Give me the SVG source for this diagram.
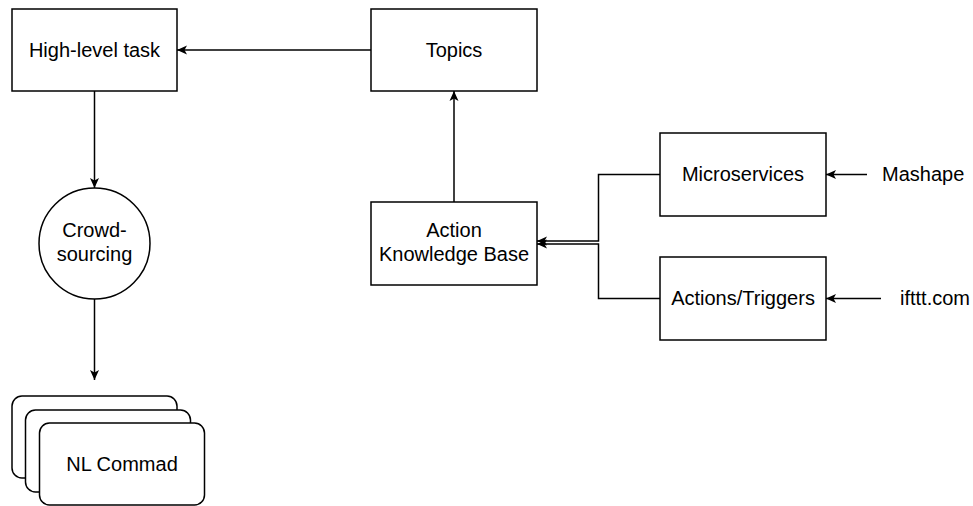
<svg xmlns="http://www.w3.org/2000/svg" width="973" height="506" viewBox="0 0 973 506">
<style>
.box{fill:#fff;stroke:#000;stroke-width:1.5}
.t{font-family:"Liberation Sans",Arial,Helvetica,sans-serif;font-size:20px;fill:#000;text-anchor:middle}
.ts{font-family:"Liberation Sans",Arial,Helvetica,sans-serif;font-size:20px;fill:#000}
.e{fill:none;stroke:#000;stroke-width:1.5}
</style>
<defs>
<marker id="arr" markerUnits="userSpaceOnUse" viewBox="0 0 10 10" refX="10" refY="5" markerWidth="11" markerHeight="10" orient="auto">
<path d="M0,0.5 L10,5 L0,9.5 L2.5,5 Z" fill="#000"/>
</marker>
</defs>
<rect width="973" height="506" fill="#fff"/>
<g id="connectors">
<path class="e" d="M371,50 L177,50" marker-end="url(#arr)"/>
<path class="e" d="M454,202 L454,91" marker-end="url(#arr)"/>
<path class="e" d="M94.5,91 L94.5,188" marker-end="url(#arr)"/>
<path class="e" d="M94.5,299 L94.5,380" marker-end="url(#arr)"/>
<path class="e" d="M660,174.5 L598.5,174.5 L598.5,241 L537,241" marker-end="url(#arr)"/>
<path class="e" d="M660,298.5 L598.5,298.5 L598.5,244 L537,244" marker-end="url(#arr)"/>
<path class="e" d="M867,174.5 L826,174.5" marker-end="url(#arr)"/>
<path class="e" d="M881,298.5 L826,298.5" marker-end="url(#arr)"/>
</g>
<g id="high-level-task">
<rect class="box" x="12" y="9" width="165" height="82"/>
<text class="t" x="94.5" y="57">High-level task</text>
</g>
<g id="topics">
<rect class="box" x="371" y="9" width="166" height="82"/>
<text class="t" x="454" y="57">Topics</text>
</g>
<g id="action-knowledge-base">
<rect class="box" x="371" y="202" width="166" height="83"/>
<text class="t" x="454" y="237">Action</text>
<text class="t" x="454" y="261">Knowledge Base</text>
</g>
<g id="microservices">
<rect class="box" x="660" y="133" width="166" height="83"/>
<text class="t" x="743" y="181">Microservices</text>
</g>
<g id="actions-triggers">
<rect class="box" x="660" y="257" width="166" height="83"/>
<text class="t" x="743" y="305">Actions/Triggers</text>
</g>
<g id="mashape">
<text class="ts" x="882" y="181">Mashape</text>
</g>
<g id="ifttt">
<text class="ts" x="900" y="305">ifttt.com</text>
</g>
<g id="crowdsourcing">
<circle class="box" cx="94.5" cy="243.5" r="55.5"/>
<text class="t" x="94.5" y="237">Crowd-</text>
<text class="t" x="94.5" y="261">sourcing</text>
</g>
<g id="nl-commad">
<rect class="box" x="12" y="396" width="165" height="82" rx="10"/>
<rect class="box" x="25.5" y="410" width="165" height="82" rx="10"/>
<rect class="box" x="39.5" y="423" width="165" height="82" rx="10"/>
<text class="t" x="122" y="471">NL Commad</text>
</g>
</svg>
